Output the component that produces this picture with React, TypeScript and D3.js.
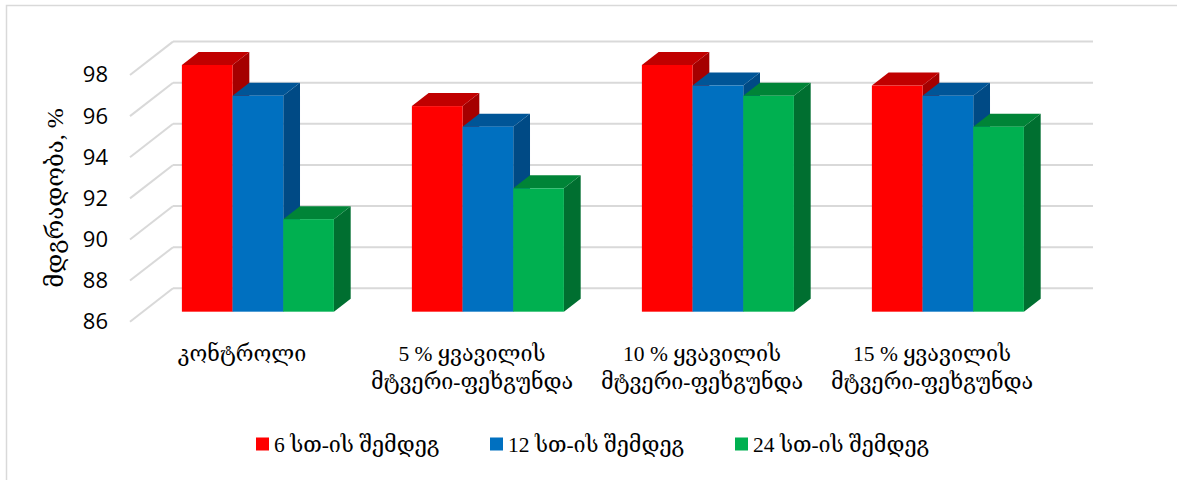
import React from "react";
import * as d3 from "d3";

// Categories, series and values
const categories: string[][] = [
  ["კონტროლი"],
  ["5 % ყვავილის", "მტვერი-ფეხგუნდა"],
  ["10 % ყვავილის", "მტვერი-ფეხგუნდა"],
  ["15 % ყვავილის", "მტვერი-ფეხგუნდა"],
];
const seriesNames: string[] = ["6 სთ-ის შემდეგ", "12 სთ-ის შემდეგ", "24 სთ-ის შემდეგ"];
const after6h: number[] = [98, 96, 98, 97];
const after12h: number[] = [96.5, 95, 97, 96.5];
const after24h: number[] = [90.5, 92, 96.5, 95];
const yTicks: number[] = [86, 88, 90, 92, 94, 96, 98];
const yTitle = "მდგრადობა, %";

const seriesValues = [after6h, after12h, after24h];

// Face colours per series: front, top, side
const palette = [
  { front: "#ff0000", top: "#c00000", side: "#a50000" },
  { front: "#0070c0", top: "#005597", side: "#004a85" },
  { front: "#00b050", top: "#008437", side: "#006f30" },
];

const W = 1177;
const H = 480;

// Oblique projection of the chart's depth axis
const DX = 43;
const DY = -33.4;
const BAR_F0 = 0.3;
const BAR_F1 = 0.69;

const SERIF = "'Liberation Serif', 'DejaVu Serif', 'DejaVu Sans', serif";
const SANS = "'Open Sans', 'Liberation Sans', sans-serif";

export default function App() {
  const catKeys = categories.map((c, i) => String(i));
  const x0 = d3
    .scaleBand<string>()
    .domain(catKeys)
    .range([130, 1050])
    .paddingInner(0.339)
    .paddingOuter(0.1695);
  const x1 = d3
    .scaleBand<string>()
    .domain(seriesNames)
    .range([0, x0.bandwidth()]);
  const y = d3.scaleLinear().domain([86, 98]).range([321.7, 75]);
  const xCat = d3.scaleBand<string>().domain(catKeys).range([130, 1050]);

  const gridColor = "#d9d9d9";

  const bars: React.ReactNode[] = [];
  catKeys.forEach((ck, ci) => {
    seriesNames.forEach((sn, si) => {
      const v = seriesValues[si][ci];
      const c = palette[si];
      const xl = (x0(ck) as number) + (x1(sn) as number) + BAR_F0 * DX;
      const xr = xl + x1.bandwidth();
      const yt = y(v) + BAR_F0 * DY;
      const yb = y(86) + BAR_F0 * DY;
      const ddx = (BAR_F1 - BAR_F0) * DX;
      const ddy = (BAR_F1 - BAR_F0) * DY;
      const side = `M${xr},${yt} L${xr + ddx},${yt + ddy} L${xr + ddx},${yb + ddy} L${xr},${yb} Z`;
      const top = `M${xl},${yt} L${xl + ddx},${yt + ddy} L${xr + ddx},${yt + ddy} L${xr},${yt} Z`;
      bars.push(
        <g key={`${ci}-${si}`}>
          <path d={side} fill={c.side} />
          <path d={top} fill={c.top} />
          <rect x={xl} y={yt} width={xr - xl} height={yb - yt} fill={c.front} />
        </g>
      );
    });
  });

  const legendX = [256, 490, 735];

  return (
    <svg
      width={W}
      height={H}
      style={{ position: "absolute", left: 0, top: 0, background: "#fff" }}
    >
      <rect x={6.5} y={5.5} width={W + 10} height={H + 10} fill="#fff" stroke={gridColor} strokeWidth={1.5} />

      {/* wall gridlines */}
      {yTicks.map((t) => (
        <g key={t}>
          <line x1={130} y1={y(t)} x2={130 + DX} y2={y(t) + DY} stroke={gridColor} strokeWidth={2} />
          <line x1={130 + DX} y1={y(t) + DY} x2={1050 + DX} y2={y(t) + DY} stroke={gridColor} strokeWidth={2} />
        </g>
      ))}

      {bars}

      {/* y tick labels */}
      {yTicks.map((t) => (
        <text
          key={t}
          x={108}
          y={y(t) + 1.5}
          textAnchor="end"
          dominantBaseline="middle"
          fontFamily={SANS}
          fontSize={22}
          fill="#000"
        >
          {t}
        </text>
      ))}

      <text
        transform={`translate(57,198) rotate(-90)`}
        textAnchor="middle"
        dominantBaseline="middle"
        fontFamily={SERIF}
        fontSize={24}
        fill="#000"
      >
        {yTitle}
      </text>

      {/* category labels */}
      {categories.map((lines, i) => (
        <text
          key={i}
          textAnchor="middle"
          fontFamily={SERIF}
          fontSize={21.5}
          fill="#000"
        >
          {lines.map((ln, j) => (
            <tspan key={j} x={(xCat(String(i)) as number) + xCat.bandwidth() / 2 - 3} y={361 + j * 28}>
              {ln}
            </tspan>
          ))}
        </text>
      ))}

      {/* legend */}
      {seriesNames.map((s, i) => (
        <g key={s}>
          <rect x={legendX[i]} y={437.5} width={13} height={13} fill={palette[i].front} />
          <text x={legendX[i] + 18} y={451.5} fontFamily={SERIF} fontSize={21.5} fill="#000">
            {s}
          </text>
        </g>
      ))}
    </svg>
  );
}
